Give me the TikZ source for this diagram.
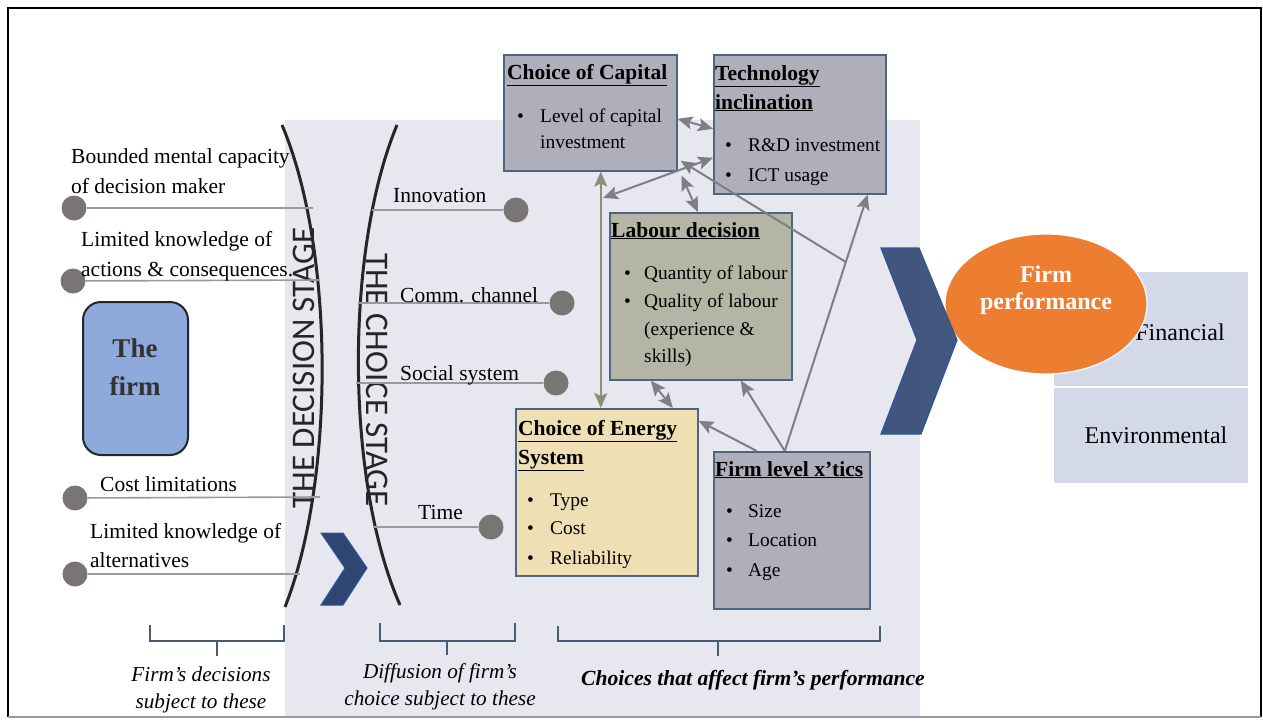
\documentclass[tikz,border=0pt]{standalone}
\usepackage{fontspec}
\setmainfont{Liberation Serif}
\newfontfamily\stagefont{Carlito}
\usetikzlibrary{arrows.meta,calc,shapes.geometric}

\definecolor{backcol}{HTML}{E7E8EF}
\definecolor{boxgray}{HTML}{AEAFBA}
\definecolor{labourcol}{HTML}{B5B5A5}
\definecolor{energycol}{HTML}{EEDFB4}
\definecolor{boxedge}{HTML}{4E6580}
\definecolor{linkgray}{HTML}{7E7E86}
\definecolor{olivegray}{HTML}{8E8E7A}
\definecolor{dotgray}{HTML}{7A7575}
\definecolor{stemgray}{HTML}{9A9A9A}
\definecolor{firmblue}{HTML}{8EA9DB}
\definecolor{perforange}{HTML}{ED7D31}
\definecolor{resultcol}{HTML}{D4D9EA}
\definecolor{bracecol}{HTML}{4A5A72}
\definecolor{chevfill}{HTML}{2F4672}
\definecolor{chevedge}{HTML}{2F5597}

\begin{document}
\begin{tikzpicture}[x=1pt,y=-1pt,
    dot/.style={circle, fill=dotgray, minimum size=25pt, inner sep=0pt},
    stem/.style={draw=stemgray, line width=1.6pt},
    curve/.style={draw=black!85, line width=3pt},
    box/.style={draw=boxedge, line width=1.6pt, anchor=north west, inner sep=0pt},
    head/.style={anchor=base west, inner sep=0pt, font=\fontsize{21.5}{28}\selectfont\bfseries},
    item/.style={anchor=base west, inner sep=0pt, font=\fontsize{19.4}{28}\selectfont},
    side/.style={anchor=base west, inner sep=0pt, font=\fontsize{21.5}{30}\selectfont},
    stage/.style={inner sep=0pt, text=black!85, font=\stagefont\fontsize{33}{33}\selectfont},
    note/.style={align=center, inner sep=0pt, font=\fontsize{21.2}{27}\selectfont\itshape},
    link/.style={draw=linkgray, line width=2pt, -{Stealth[length=15pt,width=13pt,inset=3pt]}},
    twoway/.style={link, {Stealth[length=15pt,width=13pt,inset=3pt]}-{Stealth[length=15pt,width=13pt,inset=3pt]}},
    brace/.style={draw=bracecol, line width=1.4pt}]
\useasboundingbox (0,0) rectangle (1263,720);

% frame and backdrop
\fill[white] (0,0) rectangle (1263,720);
\fill[backcol] (285,120) rectangle (920,717);
\draw[line width=1.8pt] (8,717) -- (8,8) -- (1261,8) -- (1261,717);
\draw[line width=1.8pt, black!40] (8,717) -- (1261,717);

% performance side
\fill[resultcol] (1054,272) rectangle (1248,386);
\fill[resultcol] (1054,388) rectangle (1248,483);
\node[inner sep=0pt, font=\fontsize{24}{24}\selectfont] (financial) at (1180,332) {Financial};
\node[inner sep=0pt, font=\fontsize{24}{24}\selectfont] (environmental) at (1156,435) {Environmental};
\node[ellipse, fill=perforange, draw=white, line width=1.2pt, minimum width=202pt, minimum height=140pt] (perf) at (1046,304) {};
\node[align=center, inner sep=0pt, text=white, font=\fontsize{24}{27}\selectfont\bfseries] (perftxt) at (1046,290) {Firm\\performance};

% chevrons
\filldraw[fill=chevfill, draw=chevedge, line width=1pt] (321,533) -- (343,533) -- (367,568) -- (343,605) -- (321,605) -- (345,568) -- cycle;
\filldraw[fill=chevfill, fill opacity=0.9, draw=chevedge, line width=1.2pt] (881,248) -- (919,248) -- (957,340) -- (921,434) -- (881,434) -- (917,340) -- cycle;

% the two stages
\draw[curve] (282,125) .. controls (335,250) and (335,480) .. (285,607);
\draw[curve] (397,125) .. controls (345,250) and (345,480) .. (400,605);
\node[stage, rotate=90] (decision) at (304,368) {THE DECISION STAGE};
\node[stage, rotate=-90] (choice) at (377,380) {THE CHOICE STAGE};

% decision constraints
\coordinate (lc1) at (313,208);
\coordinate (lc2) at (320,280);
\coordinate (lc3) at (320,497);
\coordinate (lc4) at (300,574);
\node[dot] (ld1) at (74,208) {};
\node[dot] (ld2) at (73,281) {};
\node[dot] (ld3) at (75,498) {};
\node[dot] (ld4) at (75,574) {};
\draw[stem] (ld1) -- (lc1);
\draw[stem] (ld2) -- (lc2);
\draw[stem] (ld3) -- (lc3);
\draw[stem] (ld4) -- (lc4);
\node[side] (bounded1) at (71,163) {Bounded mental capacity};
\node[side] (bounded2) at (71,193) {of decision maker};
\node[side] (actions1) at (81,246) {Limited knowledge of};
\node[side] (actions2) at (81,276) {actions \& consequences.};
\node[side] (cost) at (100,491) {Cost limitations};
\node[side] (altern1) at (90,538) {Limited knowledge of};
\node[side] (altern2) at (90,567) {alternatives};

% the firm
\node[draw=black!85, line width=2pt, fill=firmblue, rounded corners=18pt, minimum width=105pt, minimum height=153pt] (firm) at (135.5,378.5) {};
\node[align=center, inner sep=0pt, text=black!80, font=\fontsize{27}{38}\selectfont\bfseries] (firmtxt) at (135,367) {The\\firm};

% diffusion factors
\coordinate (mc1) at (372,210);
\coordinate (mc2) at (358,303);
\coordinate (mc3) at (356,383);
\coordinate (mc4) at (373,527);
\node[dot] (md1) at (516,210) {};
\node[dot] (md2) at (562,303) {};
\node[dot] (md3) at (556,383) {};
\node[dot] (md4) at (491,527) {};
\draw[stem] (mc1) -- (md1);
\draw[stem] (mc2) -- (md2);
\draw[stem] (mc3) -- (md3);
\draw[stem] (mc4) -- (md4);
\node[side] (innovation) at (393,202) {Innovation};
\node[side] (comm) at (400,302) {Comm. channel};
\node[side] (social) at (400,380) {Social system};
\node[side] (time) at (418,519) {Time};

% choice boxes
\node[box, fill=boxgray, minimum width=173pt, minimum height=116pt] (capital) at (503,54) {};
\node[box, fill=boxgray, minimum width=172pt, minimum height=139pt] (tech) at (713,54) {};
\node[box, fill=labourcol, minimum width=182pt, minimum height=167pt] (labour) at (609,212) {};
\node[box, fill=energycol, minimum width=182pt, minimum height=167pt] (energy) at (515,408) {};
\node[box, fill=boxgray, minimum width=156pt, minimum height=157pt] (xtics) at (713,451) {};

\node[head] (capital-t) at (507,79) {\underline{Choice of Capital}};
\node[item] (capital-b) at (517,122) {\textbullet};
\node[item] (capital-1) at (540,122) {Level of capital};
\node[item] (capital-2) at (540,148) {investment};

\node[head] (tech-t1) at (715,80) {\underline{Technology}};
\node[head] (tech-t2) at (715,109) {\underline{inclination}};
\node[item] (tech-b1) at (725,151) {\textbullet};
\node[item] (tech-1) at (748,151) {R\&D investment};
\node[item] (tech-b2) at (725,181) {\textbullet};
\node[item] (tech-2) at (748,181) {ICT usage};

\node[head] (labour-t) at (611,237) {\underline{Labour decision}};
\node[item] (labour-b1) at (624,279) {\textbullet};
\node[item] (labour-1) at (644,279) {Quantity of labour};
\node[item] (labour-b2) at (624,307) {\textbullet};
\node[item] (labour-2) at (644,307) {Quality of labour};
\node[item] (labour-3) at (644,335) {(experience \&};
\node[item] (labour-4) at (644,362) {skills)};

\node[head] (energy-t1) at (518,435) {\underline{Choice of Energy}};
\node[head] (energy-t2) at (518,464) {\underline{System}};
\node[item] (energy-b1) at (527,506) {\textbullet};
\node[item] (energy-1) at (550,506) {Type};
\node[item] (energy-b2) at (527,534) {\textbullet};
\node[item] (energy-2) at (550,534) {Cost};
\node[item] (energy-b3) at (527,564) {\textbullet};
\node[item] (energy-3) at (550,564) {Reliability};

\node[head] (xtics-t) at (715,476) {\underline{Firm level x’tics}};
\node[item] (xtics-b1) at (726,517) {\textbullet};
\node[item] (xtics-1) at (748,517) {Size};
\node[item] (xtics-b2) at (726,546) {\textbullet};
\node[item] (xtics-2) at (748,546) {Location};
\node[item] (xtics-b3) at (726,576) {\textbullet};
\node[item] (xtics-3) at (748,576) {Age};

% links between the choices
\coordinate (vlink) at (603,198);
\coordinate (xtop) at ([xshift=-7pt]xtics.north);
\coordinate (kink) at ($(xtop)!0.737!([xshift=-19pt]tech.south east)$);
\draw[twoway] ([yshift=-6pt]capital.east) -- ([yshift=-4.5pt]tech.west);
\draw[twoway] ([yshift=-33.5pt]tech.west) -- (vlink);
\draw[twoway] ([xshift=4pt,yshift=-4pt]capital.south east) -- ([xshift=-3pt]labour.north);
\draw[twoway, draw=olivegray] ([xshift=10.5pt]capital.south) -- ([xshift=-6pt]energy.north);
\draw[twoway] ([xshift=-50pt]labour.south) -- ([xshift=66pt]energy.north);
\draw[link] (xtop) -- ([xshift=40pt]labour.south);
\draw[link] ([xshift=-35pt]xtics.north) -- ([yshift=71.5pt]energy.east);
\draw[link] (xtop) -- ([xshift=-19pt]tech.south east);
\draw[link] (kink) -- ([xshift=3pt,yshift=-48pt]capital.east);

% braces and captions
\draw[brace] (150,625) -- (150,641) -- (284,641) -- (284,625) (217,641) -- (217,656);
\draw[brace] (380,623) -- (380,641) -- (515,641) -- (515,623) (447,641) -- (447,655);
\draw[brace] (558,626) -- (558,641) -- (880,641) -- (880,626) (718,641) -- (718,656);
\node[note] (decnote) at (201,690) {Firm’s decisions\\subject to these};
\node[note] (difnote) at (440,687) {Diffusion of firm’s\\choice subject to these};
\node[note, font=\fontsize{21.6}{27}\selectfont\bfseries\itshape] (choicenote) at (753,680) {Choices that affect firm’s performance};
\end{tikzpicture}
\end{document}
